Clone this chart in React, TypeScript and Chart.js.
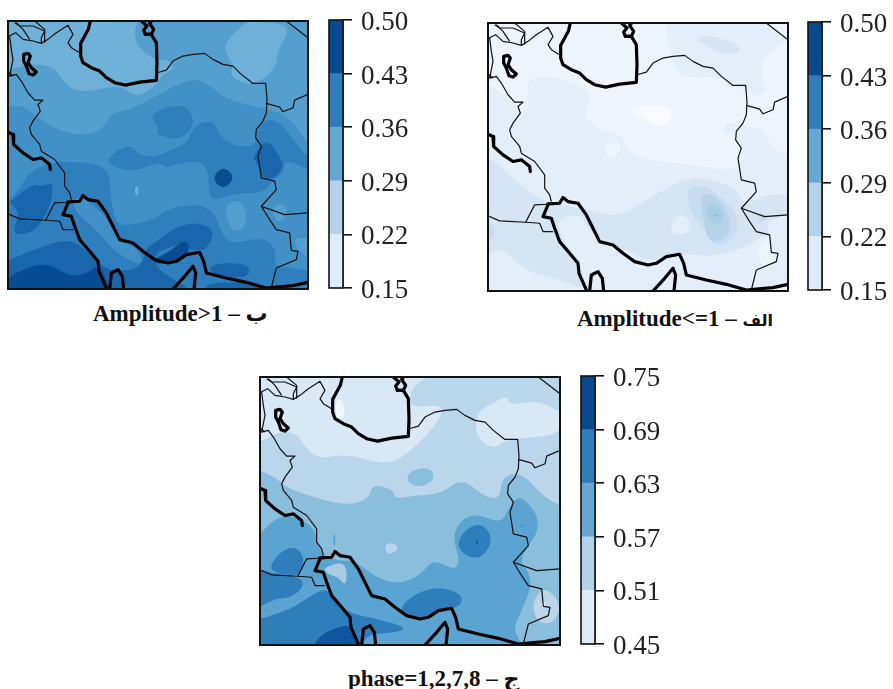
import React, { useEffect, useRef } from "react";
import { Chart, registerables } from "chart.js";

Chart.register(...registerables);

type P = number[][];

// ---------- colorbar data ----------
const barColors = ["#dfebf7", "#b5d2e8", "#64a8d3", "#2e7ebc", "#084a91"];
const ticksAB = [0.15, 0.22, 0.29, 0.36, 0.43, 0.5];
const ticksC = [0.45, 0.51, 0.57, 0.63, 0.69, 0.75];

// ---------- shared map outlines (map grid units) ----------
const caspian: P = [[272,25],[266,50],[255,70],[243,92],[243,130],[250,150],[275,165],[300,175],[320,195],[345,210],[378,217],[420,208],[470,203],[472,150],[470,90],[455,65],[437,65],[432,52],[442,40],[425,25]];
const karaBogaz: P = [[437,65],[455,65],[462,50],[450,32],[456,25]];
const urmia: P = [[72,125],[85,122],[92,130],[85,150],[95,165],[110,178],[100,187],[88,183],[80,160],[72,145],[72,125]];
const gulfNorth: P = [[205,567],[240,565],[250,548],[265,560],[295,565],[320,600],[335,630],[360,680],[400,690],[430,715],[465,740],[505,750],[530,745],[560,725],[600,718],[612,745],[620,780],[680,795],[740,808],[800,825],[830,822],[880,818],[925,808]];
const gulfSouth: P = [[205,570],[190,605],[215,610],[225,640],[240,680],[270,715],[295,745],[298,775],[320,825]];
const qatar: P = [[330,828],[335,780],[355,770],[368,790],[372,828]];
const musandam: P = [[520,828],[555,790],[580,760],[588,780],[583,828]];
const tigris: P = [[25,358],[40,365],[42,395],[70,420],[100,440],[125,435],[150,455],[152,470]];
const thickLines: P[] = [caspian, karaBogaz, urmia, gulfNorth, gulfSouth, qatar, musandam, tigris];

const azerbaijan: P = [[28,70],[48,60],[70,80],[100,85],[125,92],[145,80],[170,60],[205,38],[220,65],[205,90],[215,105],[240,120]];
const armenia: P = [[45,30],[60,40],[100,40],[135,55],[125,75],[125,92]];
const georgia: P = [[105,25],[135,50],[135,88]];
const nakhchivan: P = [[50,30],[70,50],[90,80]];
const iranWest: P = [[30,70],[35,110],[40,140],[30,190],[50,185],[65,205],[85,240],[105,262],[130,262],[115,275],[122,295],[100,325],[90,345],[95,365],[120,395],[125,415],[165,440],[195,480],[195,520],[210,540],[215,560]];
const turkeyIraq: P = [[25,178],[40,190]];
const saudiIraq: P = [[25,603],[60,618],[138,622],[165,570],[205,568]];
const kuwait: P = [[138,622],[180,625],[190,650],[220,650]];
const iranEast: P = [[472,180],[500,172],[520,145],[550,130],[580,125],[615,122],[640,140],[670,155],[700,160],[725,185],[760,212],[798,212],[802,260],[800,300],[790,325],[770,350],[768,375],[785,400],[775,430],[785,495],[825,505],[830,530],[785,580],[810,620],[830,650],[870,660],[875,712],[895,715],[890,740],[830,765],[815,825]];
const afghanNorth: P = [[800,272],[840,283],[850,297],[880,285],[885,262],[925,245]];
const uzbek: P = [[860,25],[925,75]];
const afghanSouth: P = [[785,580],[855,605],[925,600]];
const thinLines: P[] = [azerbaijan, armenia, georgia, nakhchivan, iranWest, turkeyIraq, saudiIraq, kuwait, iranEast, afghanNorth, uzbek, afghanSouth];

// ---------- Amplitude>1 contours ----------
const a1 = "#6fb0d8", a2 = "#559fce", a3 = "#4191c6", a4 = "#2f7fbc", a5 = "#1966ad", a6 = "#084c94";
const aNorth: P = [[25,282],[71,277],[111,312],[151,337],[201,362],[281,367],[321,332],[331,302],[401,287],[466,252],[526,217],[591,197],[636,222],[676,257],[766,282],[801,287],[866,312],[906,362],[925,392],[925,25],[25,25]];
const aNorthLight: P = [[25,25],[415,25],[401,62],[421,112],[471,142],[506,142],[526,167],[486,187],[471,217],[421,250],[391,242],[361,217],[291,232],[231,237],[196,212],[166,167],[121,152],[61,162],[25,172]];
const aNorthEastLight: P = [[746,25],[856,32],[866,62],[831,117],[831,167],[766,217],[716,207],[691,182],[701,157],[671,107],[691,72]];
const aSouth: P = [[25,567],[61,527],[91,472],[181,442],[311,457],[331,492],[335,572],[351,640],[421,632],[466,617],[526,577],[636,577],[671,677],[706,692],[786,672],[831,707],[821,757],[886,767],[925,772],[925,828],[25,828]];
const aCentre: P = [[321,442],[351,412],[391,397],[421,427],[466,432],[516,412],[566,387],[571,362],[596,332],[641,322],[656,362],[691,397],[766,402],[771,362],[786,332],[811,317],[851,337],[886,392],[925,432],[925,470],[860,440],[851,477],[820,505],[790,540],[696,542],[636,567],[626,522],[626,472],[601,445],[531,452],[501,467],[481,447],[401,477],[341,462]];
const aBlobNorth: P = [[451,312],[481,290],[516,282],[556,277],[586,322],[566,362],[526,382],[466,362],[481,352]];
const aGulf: P = [[211,582],[241,542],[331,622],[361,682],[421,712],[431,762],[351,722],[291,652]];
const aWest: P = [[31,567],[101,512],[126,522],[161,507],[156,562],[136,612],[101,657],[51,667],[41,647],[61,602]];
const aSouthDark: P = [[25,742],[101,712],[211,672],[281,732],[321,772],[421,772],[441,702],[466,690],[526,642],[596,627],[641,652],[636,682],[616,712],[576,712],[546,692],[500,707],[466,722],[470,770],[560,820],[560,828],[25,828]];
const aSouthDarkest: P = [[25,797],[61,772],[141,747],[211,792],[261,782],[301,752],[330,828],[25,828]];
const aHormuz: P = [[466,737],[516,712],[551,680],[571,697],[561,732],[516,752],[466,752]];
const aMakran: P = [[631,752],[746,750],[751,797],[636,787]];
const aCoast: P = [[621,812],[740,805],[790,825],[620,828]];
const aEastDark: P = [[756,442],[786,392],[811,387],[846,442],[851,462],[826,497],[786,497],[771,442]];
const aDiamond: P = [[635,497],[671,458],[707,494],[671,532]];
const aSpot: P = [[406,520],[416,520],[416,547],[406,547]];
const aBlobEast: P = [[826,572],[861,577],[861,612],[836,632],[816,602]];
const aBlobFar: P = [[881,677],[925,674],[925,732],[896,712]];
const aBlobCentre: P = [[676,582],[706,560],[736,577],[741,637],[711,659],[686,637]];
const ampHighBase = a3;
const ampHigh: [P, string][] = [[aNorth,a2],[aNorthLight,a1],[aNorthEastLight,a1],[aSouth,a4],[aCentre,a4],[aBlobNorth,a4],[aGulf,a3],[aWest,a5],[aSouthDark,a5],[aSouthDarkest,a6],[aHormuz,a6],[aMakran,a5],[aCoast,a5],[aEastDark,a5],[aDiamond,a6],[aSpot,a1],[aBlobEast,a2],[aBlobFar,a2],[aBlobCentre,a2]];

// ---------- Amplitude<=1 contours ----------
const b0 = "#f7fbff", b1 = "#edf4fc", b2 = "#e3eef8", b3 = "#d6e5f4", b4 = "#c8dcf0", b5 = "#b5d4e9", b6 = "#a4cfe4", b7 = "#8fc2de";
const bMain: P = [[25,210],[60,230],[135,300],[150,265],[140,195],[200,182],[290,205],[340,240],[310,300],[350,340],[435,365],[440,410],[530,440],[640,450],[770,470],[790,420],[770,350],[720,360],[745,320],[790,335],[855,340],[870,395],[925,420],[925,828],[25,828]];
const bNorthEast: P = [[560,25],[860,25],[920,80],[860,120],[845,180],[870,230],[830,245],[790,225],[760,210],[720,185],[600,190],[575,130],[560,60]];
const bSouth: P = [[25,430],[60,450],[120,510],[195,560],[270,575],[340,590],[420,605],[510,550],[560,520],[620,490],[690,490],[770,520],[790,570],[880,535],[925,540],[925,600],[860,620],[870,650],[825,680],[790,700],[700,725],[600,715],[520,745],[440,705],[380,680],[330,650],[300,590],[225,620],[260,690],[300,745],[320,825],[230,790],[140,770],[70,700],[25,715]];
const bKernel4: P = [[620,520],[670,505],[740,560],[780,610],[760,680],[700,695],[675,640],[630,590]];
const bKernel5: P = [[660,540],[700,535],[745,585],[755,660],[690,690],[670,620]];
const bKernel6: P = [[678,575],[710,560],[735,600],[720,630],[690,620]];
const bKernel7: P = [[695,598],[722,597],[710,606]];
const bSpotSouth: P = [[570,640],[600,590],[635,620],[625,655],[585,660]];
const bSpotMid: P = [[370,395],[410,380],[425,395],[415,420],[385,435]];
const bSpotNorth: P = [[455,280],[540,268],[580,290],[575,320],[520,340],[495,310],[460,300]];
const bWestEdge: P = [[25,620],[50,645],[30,680],[25,680]];
const bPakistan: P = [[840,690],[870,660],[870,710],[890,715],[880,750],[860,760],[835,730]];
const bPakNorth: P = [[835,590],[870,605],[840,630]];
const bTopBand: P = [[650,70],[700,60],[800,100],[740,125],[670,90]];
const bEastLight: P = [[845,130],[900,105],[925,105],[925,240],[870,250],[845,180]];
const ampLowBase = b1;
const ampLow: [P, string][] = [[bMain,b2],[bNorthEast,b2],[bSouth,b3],[bKernel4,b4],[bKernel5,b5],[bKernel6,b6],[bKernel7,b7],[bSpotSouth,b2],[bSpotMid,b1],[bSpotNorth,b0],[bWestEdge,b4],[bPakistan,b1],[bPakNorth,b4],[bTopBand,b3],[bEastLight,b1]];

// ---------- phase=1,2,7,8 contours (grid is offset by 5 units in y) ----------
const c0 = "#eef5fc", c1 = "#d9e8f5", c2 = "#b9d6ea", c2b = "#a6cbe3", c3 = "#89bedc", c4 = "#5ba3d0", c5 = "#2e7ebc", c6 = "#0d57a1";
const cNorth: P = [[25,20],[530,20],[480,50],[470,115],[575,100],[565,150],[500,220],[440,270],[380,280],[290,250],[200,265],[165,235],[130,185],[80,185],[25,215]];
const cNorthEast: P = [[770,75],[770,105],[860,90],[925,125],[925,175],[905,195],[800,205],[760,210],[730,235],[690,215],[670,175],[680,125],[710,105]];
const cCaspianSpot: P = [[250,90],[275,85],[280,150],[252,140]];
const cMiddle: P = [[25,300],[70,320],[110,355],[200,385],[290,405],[350,385],[360,350],[385,345],[425,360],[430,385],[490,375],[570,370],[630,322],[700,380],[745,385],[750,320],[810,305],[870,375],[925,405],[925,825],[25,825]];
const cIsland: P = [[465,310],[510,290],[545,300],[545,330],[510,350],[470,340]];
const cSpot: P = [[398,518],[435,518],[438,540],[405,555]];
const cGulfLight: P = [[215,590],[285,570],[285,650],[260,620],[225,610]];
const cPakistan: P = [[845,690],[875,650],[915,680],[925,720],[900,760],[860,755],[845,720]];
const cPakCore: P = [[870,690],[885,700],[870,720]];
const cSouth: P = [[25,490],[75,440],[120,435],[190,470],[200,540],[245,570],[300,570],[335,590],[380,625],[450,640],[510,610],[545,565],[610,600],[625,570],[605,510],[615,465],[650,435],[690,435],[750,460],[780,395],[815,375],[875,465],[800,565],[830,600],[840,650],[800,740],[785,780],[815,825],[25,825]];
const cSliver: P = [[245,490],[250,490],[252,525],[245,525]];
const cSaudi: P = [[25,600],[150,620],[155,650],[120,680],[70,685],[25,708]];
const cIraq: P = [[50,590],[90,540],[130,528],[155,555],[155,590],[140,615],[80,610]];
const cArabia: P = [[25,745],[120,715],[170,680],[225,650],[260,700],[300,730],[380,745],[465,770],[440,785],[350,790],[330,825],[25,825]];
const cArabiaDark: P = [[185,825],[210,790],[280,762],[295,770],[320,825]];
const cHormuz: P = [[445,710],[490,670],[550,650],[610,660],[635,685],[620,710],[580,715],[520,745],[460,740]];
const cBlob: P = [[615,510],[660,462],[700,465],[725,512],[685,568],[630,550]];
const cBlobCore: P = [[673,512],[677,505],[679,520],[673,522]];
const cEastDot: P = [[810,460],[813,472],[808,470]];
const phaseBase = c2;
const phase: [P, string][] = [[cNorth,c1],[cNorthEast,c1],[cCaspianSpot,c0],[cMiddle,c3],[cIsland,c3],[cSouth,c4],[cSpot,c2],[cGulfLight,c2b],[cPakistan,c2],[cPakCore,c1],[cSliver,c4],[cSaudi,c5],[cIraq,c5],[cArabia,c5],[cArabiaDark,c6],[cHormuz,c5],[cBlob,c5],[cBlobCore,c6],[cEastDot,c5]];

// ---------- chart helpers ----------
const SERIF = '"Liberation Serif", "DejaVu Serif", serif';
const pts = (p: P, dy = 0) => p.map(([x, y]) => ({ x, y: y + dy }));
const FULL: P = [[25,25],[925,25],[925,828],[25,828]];

const polygonPlugin = {
  id: "polygonFill",
  beforeDatasetDraw(chart: any, args: any) {
    const ds = chart.data.datasets[args.index];
    if (!ds.areaColor) return;
    const { ctx, chartArea: a } = chart;
    const d = args.meta.data as { x: number; y: number }[];
    const onEdge = (p: { x: number; y: number }) =>
      p.x <= a.left + 2 || p.x >= a.right - 2 || p.y <= a.top + 2 || p.y >= a.bottom - 2;
    const mid = (p: any, q: any) => ({ x: (p.x + q.x) / 2, y: (p.y + q.y) / 2 });
    ctx.save();
    ctx.beginPath();
    ctx.rect(a.left, a.top, a.width, a.height);
    ctx.clip();
    ctx.beginPath();
    const start = mid(d[d.length - 1], d[0]);
    ctx.moveTo(start.x, start.y);
    d.forEach((p, i) => {
      const m = mid(p, d[(i + 1) % d.length]);
      if (onEdge(p)) {
        ctx.lineTo(p.x, p.y);
        ctx.lineTo(m.x, m.y);
      } else {
        ctx.quadraticCurveTo(p.x, p.y, m.x, m.y);
      }
    });
    ctx.closePath();
    ctx.fillStyle = ds.areaColor;
    ctx.fill();
    ctx.restore();
  },
};

const framePlugin = {
  id: "frame",
  afterDraw(chart: any) {
    const { ctx, chartArea: a } = chart;
    ctx.save();
    ctx.strokeStyle = "#111";
    ctx.lineWidth = chart.config.type === "bar" ? 1.6 : 2;
    ctx.strokeRect(a.left, a.top, a.width, a.height);
    ctx.restore();
  },
};

function MapPanel({ left, top, base, areas, dy }: { left: number; top: number; base: string; areas: [P, string][]; dy: number }) {
  const ref = useRef<HTMLCanvasElement>(null);
  useEffect(() => {
    const fills = [[FULL, base] as [P, string], ...areas];
    const total = fills.length + thinLines.length + thickLines.length;
    let n = 0;
    const datasets: any[] = [];
    fills.forEach(([p, color]) => {
      datasets.push({ data: pts(p, p === FULL ? 0 : dy), areaColor: color, showLine: false, pointRadius: 0, order: total - n++ });
    });
    thinLines.forEach((p) => {
      datasets.push({ data: pts(p), showLine: true, pointRadius: 0, borderColor: "#111", borderWidth: 1.2, tension: 0, fill: false, borderJoinStyle: "round", order: total - n++ });
    });
    thickLines.forEach((p) => {
      datasets.push({ data: pts(p), showLine: true, pointRadius: 0, borderColor: "#000", borderWidth: 3.2, tension: 0, fill: false, borderJoinStyle: "round", borderCapStyle: "round", order: total - n++ });
    });
    const chart = new Chart(ref.current!, {
      type: "scatter",
      data: { datasets },
      plugins: [polygonPlugin, framePlugin],
      options: {
        animation: false,
        responsive: false,
        events: [],
        layout: { padding: 2 },
        plugins: { legend: { display: false }, tooltip: { enabled: false } },
        scales: {
          x: { type: "linear", min: 25, max: 925, display: false },
          y: { type: "linear", min: 25, max: 828, reverse: true, display: false },
        },
      },
    } as any);
    return () => chart.destroy();
  }, []);
  return <canvas ref={ref} width={304} height={272} style={{ position: "absolute", left: left - 2, top: top - 2 }} />;
}

function ColorBar({ left, top, ticks }: { left: number; top: number; ticks: number[] }) {
  const ref = useRef<HTMLCanvasElement>(null);
  useEffect(() => {
    const chart = new Chart(ref.current!, {
      type: "bar",
      data: {
        labels: ["level"],
        datasets: barColors.map((color, i) => ({
          data: [[ticks[i], ticks[i + 1]]],
          backgroundColor: color,
          grouped: false,
          barPercentage: 1,
          categoryPercentage: 1,
        })),
      },
      plugins: [framePlugin],
      options: {
        animation: false,
        responsive: false,
        events: [],
        layout: { padding: { left: 2, top: 18, bottom: 18, right: 0 } },
        plugins: { legend: { display: false }, tooltip: { enabled: false } },
        scales: {
          x: { display: false },
          y: {
            position: "right",
            min: ticks[0],
            max: ticks[ticks.length - 1],
            afterFit: (s: any) => { s.width = 84; s.paddingTop = 0; s.paddingBottom = 0; },
            afterBuildTicks: (s: any) => { s.ticks = ticks.map((value) => ({ value })); },
            border: { color: "#111", width: 1.6 },
            grid: { drawOnChartArea: false, drawTicks: true, tickLength: 9, color: "#111", lineWidth: 1.6 },
            ticks: {
              padding: 9,
              color: "#222",
              font: { family: SERIF, size: 27 },
              autoSkip: false,
              maxRotation: 0,
              labelOffset: 3,
              callback: (v: any) => Number(v).toFixed(2),
            },
          },
        },
      },
    } as any);
    return () => chart.destroy();
  }, []);
  return <canvas ref={ref} width={100} height={304} style={{ position: "absolute", left: left - 2, top: top - 18 }} />;
}

function Caption({ left, top, text, tag, tagSize }: { left: number; top: number; text: string; tag: string; tagSize: number }) {
  return (
    <div dir="ltr" style={{ position: "absolute", left, top, whiteSpace: "nowrap", fontFamily: '"Liberation Serif", "DejaVu Sans", serif', fontWeight: 700, fontSize: 23, lineHeight: "26px", color: "#111" }}>
      {text} – <bdi style={{ fontSize: tagSize }}>{tag}</bdi>
    </div>
  );
}

export default function App() {
  return (
    <div style={{ position: "absolute", left: 0, top: 0, width: 893, height: 689, overflow: "hidden", background: "#fff" }}>
      <MapPanel left={8} top={21} base={ampHighBase} areas={ampHigh} dy={0} />
      <ColorBar left={329} top={20} ticks={ticksAB} />
      <Caption left={93} top={301} text="Amplitude>1" tag="ب" tagSize={22} />
      <MapPanel left={488} top={23} base={ampLowBase} areas={ampLow} dy={0} />
      <ColorBar left={808} top={22} ticks={ticksAB} />
      <Caption left={577} top={306} text="Amplitude<=1" tag="الف" tagSize={16} />
      <MapPanel left={260} top={377} base={phaseBase} areas={phase} dy={5} />
      <ColorBar left={581} top={376} ticks={ticksC} />
      <Caption left={348} top={666} text="phase=1,2,7,8" tag="ج" tagSize={22} />
    </div>
  );
}
